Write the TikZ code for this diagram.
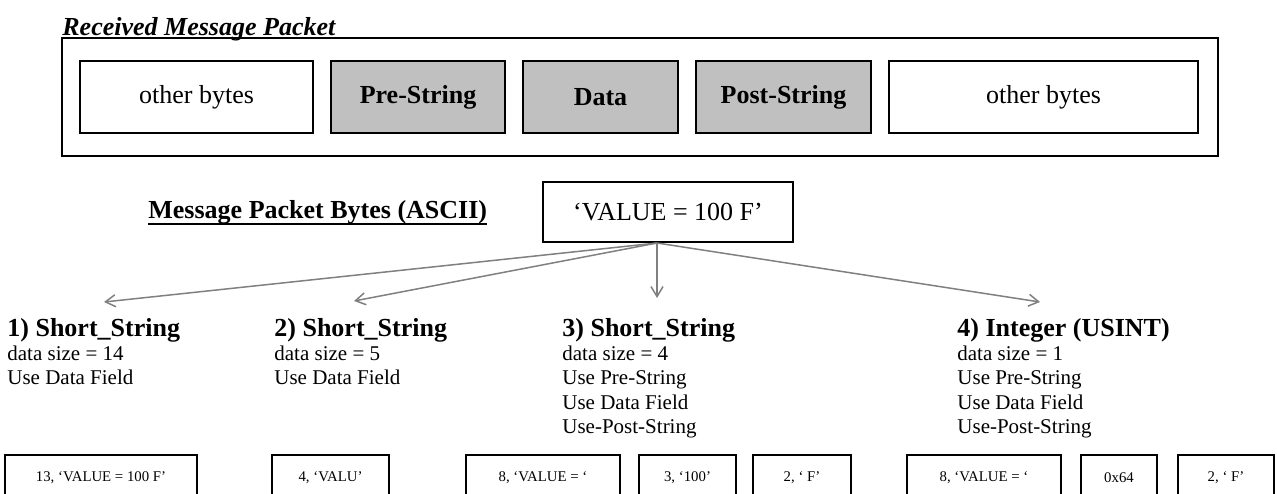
\documentclass[tikz,border=0pt]{standalone}
\usepackage{fontspec}
\setmainfont{Liberation Serif}
\usepackage{xcolor}
\usetikzlibrary{arrows.meta, positioning, calc}
\definecolor{fieldgray}{RGB}{192,192,192}
\definecolor{arrowgray}{RGB}{128,128,128}
\tikzset{
	field/.style={draw, line width=1pt, minimum height=36pt, inner sep=0pt, font=\fontsize{13}{15}\selectfont},
	keyfield/.style={field, fill=fieldgray, font=\fontsize{13}{15}\selectfont\bfseries},
	bytecell/.style={draw, line width=1pt, fill=white, minimum height=23pt, inner sep=0pt, font=\fontsize{7.4}{9}\selectfont},
	head/.style={anchor=base west, inner sep=0pt, font=\fontsize{13}{15}\selectfont\bfseries},
	detail/.style={anchor=base west, inner sep=0pt, font=\fontsize{10.5}{12}\selectfont},
	split/.style={draw=arrowgray, line width=0.75pt, -{Straight Barb[length=5pt, width=6pt]}}
}
\newcommand{\fieldbox}[5]{%
	\node[#2, minimum width=#4*0.5pt] (#1) at (#3,97) {#5};}
\newcommand{\bytebox}[4]{%
	\node[bytecell, minimum width=#3*0.5pt] (#1) at (#2,478) {#4};}
\newcommand{\caseblock}[4]{%
	\node[head] (#1) at (#2,336) {#3};
	\foreach \rowtext [count=\i] in {#4}
		\node[detail] (#1-\i) at (#2,{336+24.4*\i}) {\rowtext};}

\begin{document}
\begin{tikzpicture}[x=0.5pt, y=-0.5pt]
	\useasboundingbox (0,0) rectangle (1277,493);
	% received packet
	\node[anchor=base west, inner sep=0pt, font=\fontsize{13}{15}\selectfont\bfseries\itshape] (title) at (62,35) {Received Message Packet};
	\draw[line width=0.6pt] ([yshift=-1.5pt]title.base west) -- ([yshift=-1.5pt]title.base east);
	\node[draw, line width=1pt, minimum width=578pt, minimum height=59pt] (packet) at (640,97) {};
	\fieldbox{other1}{field}{196.5}{233}{other bytes}
	\fieldbox{pre}{keyfield}{418}{174}{Pre-String}
	\fieldbox{data}{keyfield}{600.5}{155}{Data}
	\fieldbox{post}{keyfield}{783.5}{175}{Post-String}
	\fieldbox{other2}{field}{1043.5}{309}{other bytes}
	% ascii bytes
	\node[anchor=base west, inner sep=0pt, font=\fontsize{13}{15}\selectfont\bfseries] (asciilbl) at (148,218) {Message Packet Bytes (ASCII)};
	\draw[line width=0.6pt] ([yshift=-3pt]asciilbl.base west) -- ([yshift=-3pt]asciilbl.base east);
	\node[draw, line width=1pt, minimum width=125pt, minimum height=30pt, inner sep=0pt, font=\fontsize{13}{15}\selectfont] (value) at (668,212) {‘VALUE = 100 F’};
	\coordinate (fork) at ([xshift=-5.5pt]value.south);
	\coordinate (tip1) at (104,302);
	\coordinate (tip2) at (354,301);
	\coordinate (tip3) at (657,298);
	\coordinate (tip4) at (1040,302);
	\foreach \t in {tip1,tip2,tip3,tip4}
		\draw[split] (fork) -- (\t);
	% cases
	\caseblock{case1}{7}{1) Short\_String}{data size = 14, Use Data Field}
	\caseblock{case2}{274}{2) Short\_String}{data size = 5, Use Data Field}
	\caseblock{case3}{562}{3) Short\_String}{data size = 4, Use Pre-String, Use Data Field, Use-Post-String}
	\caseblock{case4}{957}{4) Integer (USINT)}{data size = 1, Use Pre-String, Use Data Field, Use-Post-String}
	% resulting bytes
	\bytebox{b1}{101}{192}{13, ‘VALUE = 100 F’}
	\bytebox{b2}{330.5}{117}{4, ‘VALU’}
	\bytebox{b3}{543}{154}{8, ‘VALUE = ‘}
	\bytebox{b4}{687.5}{97}{3, ‘100’}
	\bytebox{b5}{802}{98}{2, ‘ F’}
	\bytebox{b6}{984}{154}{8, ‘VALUE = ‘}
	\bytebox{b7}{1119}{76}{0x64}
	\bytebox{b8}{1226}{96}{2, ‘ F’}
\end{tikzpicture}
\end{document}
